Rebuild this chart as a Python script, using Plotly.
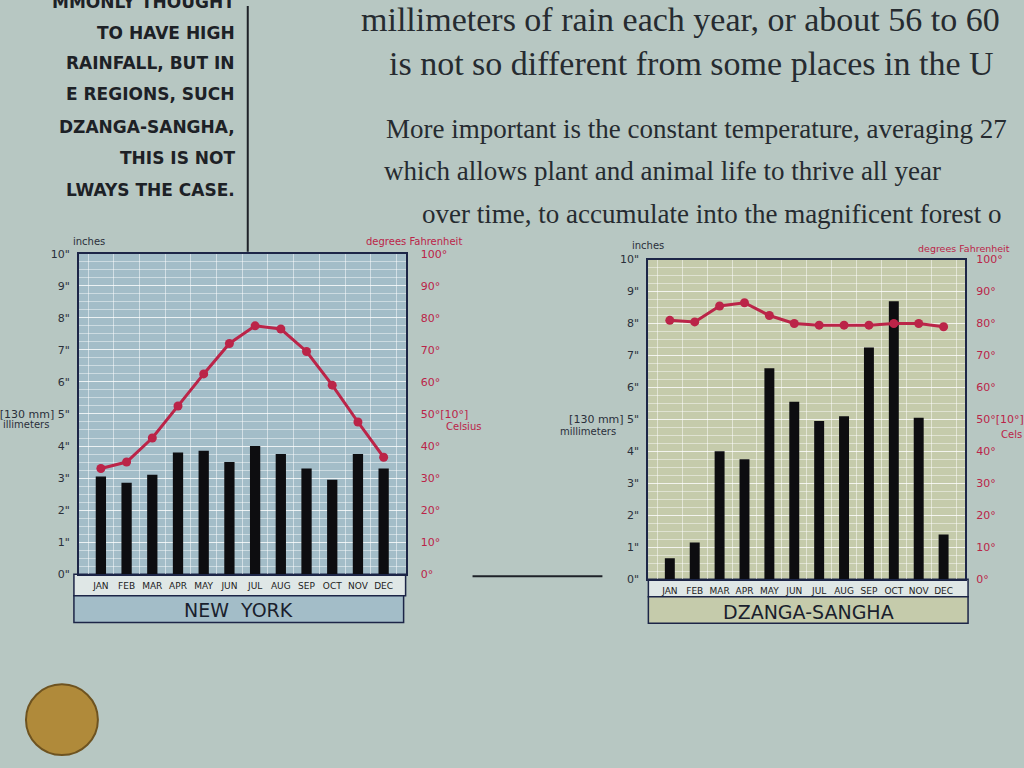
import plotly.graph_objects as go
from plotly.subplots import make_subplots

months = ["JAN", "FEB", "MAR", "APR", "MAY", "JUN", "JUL", "AUG", "SEP", "OCT", "NOV", "DEC"]
ny_rain_in = [3.05, 2.85, 3.1, 3.8, 3.85, 3.5, 4.0, 3.75, 3.3, 2.95, 3.75, 3.3]
ny_temp_f = [33, 35, 42.5, 52.5, 62.5, 72, 77.5, 76.5, 69.5, 59, 47.5, 36.5]
dz_rain_in = [0.65, 1.15, 4.0, 3.75, 6.6, 5.55, 4.95, 5.1, 7.25, 8.7, 5.05, 1.4]
dz_temp_f = [81, 80.5, 85.5, 86.5, 82.5, 80, 79.5, 79.5, 79.5, 80, 80, 79]

in_ticks = list(range(0, 11))
in_labels = [f'{v}"' for v in in_ticks]
in_labels[5] = '[130 mm] 5"'
f_ticks = list(range(0, 101, 10))
f_labels = [f"{v}°" for v in f_ticks]
f_labels[5] = "50°[10°]"

W, H = 1024, 768
def px(x): return x / W
def py(y): return 1 - y / H

BG = "#b7c7c2"
NAVY = "#1c2547"
RED = "#bb2448"
NY_BG = "#a3bdc8"
DZ_BG = "#c5cbab"
BAND = "#dfe7e6"

fig = make_subplots(rows=1, cols=2, specs=[[{"secondary_y": True}, {"secondary_y": True}]])

for col, rain, temp in [(1, ny_rain_in, ny_temp_f), (2, dz_rain_in, dz_temp_f)]:
    fig.add_trace(go.Bar(x=months, y=rain, marker=dict(color="#0d0d10", line=dict(width=0)),
                         width=0.4, showlegend=False), row=1, col=col, secondary_y=False)
    fig.add_trace(go.Scatter(x=months, y=temp, mode="lines+markers",
                             line=dict(color=RED, width=3),
                             marker=dict(color=RED, size=9), showlegend=False),
                  row=1, col=col, secondary_y=True)

doms = {1: ([px(78), px(405)], [py(578), py(252)], NY_BG, 12),
        2: ([px(648), px(965)], [py(583), py(258)], DZ_BG, 8)}

axis_font = dict(family="DejaVu Sans", size=11, color="#2a2f3a")
red_font = dict(family="DejaVu Sans", size=11, color=RED)

for col in (1, 2):
    xd, yd, bg, rlen = doms[col]
    fig.update_xaxes(domain=xd, row=1, col=col, tickson="boundaries", showgrid=True,
                     gridcolor="rgba(255,255,255,0.5)", gridwidth=1,
                     showline=True, linecolor=NAVY, linewidth=2, mirror=True,
                     ticks="", tickangle=0,
                     tickfont=dict(family="Liberation Sans Narrow, DejaVu Sans", size=9, color="#222"),
                     ticklabelstandoff=2)
    fig.update_yaxes(domain=yd, row=1, col=col, secondary_y=False, range=[0, 10],
                     tickvals=in_ticks, ticktext=in_labels, tickfont=axis_font,
                     showgrid=True, gridcolor="rgba(255,255,255,0.6)", gridwidth=1,
                     minor=dict(dtick=0.25, showgrid=True, gridcolor="rgba(255,255,255,0.45)"),
                     showline=True, linecolor=NAVY, linewidth=2, mirror=True,
                     ticks="outside", ticklen=5, tickcolor="rgba(0,0,0,0)", zeroline=False)
    fig.update_yaxes(row=1, col=col, secondary_y=True, range=[0, 100],
                     tickvals=f_ticks, ticktext=f_labels, tickfont=red_font,
                     showgrid=False, ticks="outside", ticklen=rlen, tickcolor="rgba(0,0,0,0)",
                     zeroline=False)

shapes = []
for col in (1, 2):
    xd, yd, bg, _ = doms[col]
    shapes.append(dict(type="rect", xref="paper", yref="paper", x0=xd[0], x1=xd[1], y0=yd[0], y1=yd[1],
                       fillcolor=bg, line=dict(width=0), layer="below"))
shapes += [
    dict(type="rect", xref="paper", yref="paper", x0=px(73), x1=px(405), y0=py(600), y1=py(578),
         fillcolor=BAND, line=dict(color=NAVY, width=1.5), layer="below"),
    dict(type="rect", xref="paper", yref="paper", x0=px(73), x1=px(403), y0=py(627), y1=py(600),
         fillcolor=NY_BG, line=dict(color=NAVY, width=1.5), layer="below"),
    dict(type="rect", xref="paper", yref="paper", x0=px(648), x1=px(968), y0=py(601), y1=py(583),
         fillcolor=BAND, line=dict(color=NAVY, width=1.5), layer="below"),
    dict(type="rect", xref="paper", yref="paper", x0=px(648), x1=px(968), y0=py(628), y1=py(601),
         fillcolor=DZ_BG, line=dict(color=NAVY, width=1.5), layer="below"),
    dict(type="line", xref="paper", yref="paper", x0=px(247), x1=px(247), y0=py(0), y1=py(250),
         line=dict(color="#1e2228", width=2)),
    dict(type="line", xref="paper", yref="paper", x0=px(472), x1=px(602), y0=py(580), y1=py(580),
         line=dict(color="#1e2228", width=2)),
    dict(type="circle", xref="paper", yref="paper", x0=px(25), x1=px(97), y0=py(762), y1=py(690),
         fillcolor="#b08a3a", line=dict(color="#6e5320", width=2)),
]

ann = []
def A(x, y, text, size, color="#2a2f3a", family="DejaVu Sans", xanchor="left", **kw):
    ann.append(dict(x=px(x), y=py(y), xref="paper", yref="paper", text=text, showarrow=False,
                    xanchor=xanchor, yanchor="middle", font=dict(family=family, size=size, color=color), **kw))

A(70, 240, "inches", 10)
A(463, 240, "degrees Fahrenheit", 10, color=RED, xanchor="right")
A(0, 426, "illimeters", 10)
A(443, 428, "Celsius", 10, color=RED)
A(630, 244, "inches", 10)
A(1012, 247, "degrees Fahrenheit", 9.5, color=RED, xanchor="right")
A(558, 433, "millimeters", 10)
A(1024, 436, "Cels", 10, color=RED, xanchor="right")
A(238, 614, "NEW  YORK", 19, color="#1a1f2e", xanchor="center")
A(808, 616, "DZANGA-SANGHA", 19, color="#1a1f2e", xanchor="center")

serif = "Liberation Serif"
A(358, 14, "millimeters of rain each year, or about 56 to 60", 34, color="#262b30", family=serif)
A(386, 58, "is not so different from some places in the U", 34, color="#262b30", family=serif)
A(383, 125, "More important is the constant temperature, averaging 27", 27, color="#262b30", family=serif)
A(381, 168, "which allows plant and animal life to thrive all year", 27, color="#262b30", family=serif)
A(419, 212, "over time, to accumulate into the magnificent forest o", 27, color="#262b30", family=serif)

caps = [("MMONLY THOUGHT", -4), ("TO HAVE HIGH", 27), ("RAINFALL, BUT IN", 58), ("E REGIONS, SUCH", 90),
        ("DZANGA-SANGHA,", 123), ("THIS IS NOT", 155), ("LWAYS THE CASE.", 187)]
for t, y in caps:
    A(236, y, f"<b>{t}</b>", 17, color="#1d2126", xanchor="right")

fig.update_layout(width=W, height=H, margin=dict(l=0, r=0, t=0, b=0),
                  paper_bgcolor=BG, plot_bgcolor="rgba(0,0,0,0)",
                  shapes=shapes, annotations=ann, bargap=0.5)

fig.write_html("out.html", config={"displayModeBar": False},
               post_script="document.body.style.margin='0';document.body.style.overflow='hidden';")
